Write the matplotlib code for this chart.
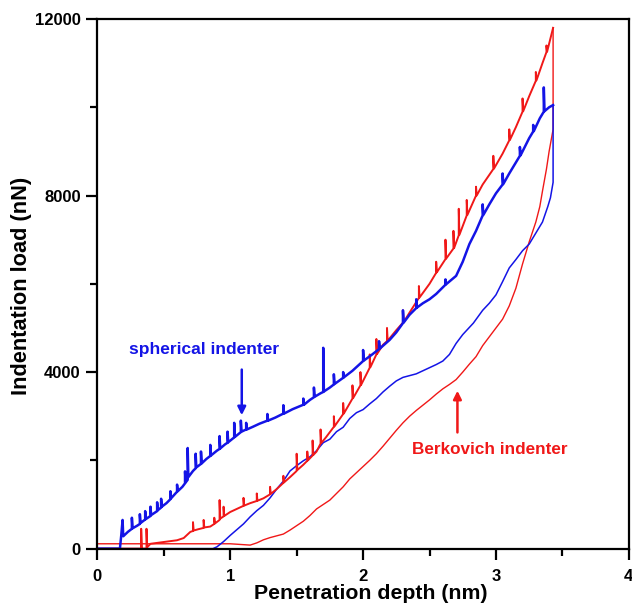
import matplotlib
matplotlib.use("Agg")
import matplotlib.pyplot as plt
from matplotlib.ticker import MultipleLocator

plt.rcParams['font.family'] = ['Liberation Sans', 'DejaVu Sans']
plt.rcParams['font.weight'] = 'bold'

sph_load_x = [0.00, 0.17, 0.18, 0.19, 0.195, 0.23, 0.26, 0.26, 0.265, 0.30, 0.32, 0.32, 0.325,
              0.36, 0.36, 0.365, 0.40, 0.40, 0.405, 0.45, 0.45, 0.455, 0.48, 0.48, 0.485, 0.52,
              0.55, 0.55, 0.555, 0.60, 0.60, 0.605, 0.64, 0.66, 0.66, 0.665, 0.68, 0.68, 0.685,
              0.72, 0.74, 0.74, 0.745, 0.78, 0.78, 0.785, 0.82, 0.85, 0.85, 0.855, 0.90, 0.92,
              0.92, 0.925, 0.96, 0.98, 0.98, 0.985, 1.03, 1.03, 1.035, 1.08, 1.08, 1.085, 1.12,
              1.12, 1.125, 1.17, 1.22, 1.28, 1.28, 1.285, 1.34, 1.40, 1.40, 1.405, 1.47, 1.55,
              1.55, 1.555, 1.60, 1.63, 1.63, 1.635, 1.68, 1.70, 1.70, 1.705, 1.75, 1.78, 1.78,
              1.785, 1.85, 1.85, 1.855, 1.92, 2.00, 2.00, 2.005, 2.06, 2.12, 2.12, 2.125, 2.20,
              2.25, 2.30, 2.30, 2.305, 2.35, 2.40, 2.40, 2.405, 2.45, 2.50, 2.55, 2.62, 2.62,
              2.625, 2.70, 2.75, 2.80, 2.85, 2.90, 2.90, 2.905, 2.95, 3.00, 3.05, 3.05, 3.055,
              3.10, 3.15, 3.18, 3.18, 3.185, 3.25, 3.28, 3.28, 3.285, 3.33, 3.36, 3.36, 3.365,
              3.40, 3.43]
sph_load_y = [0, 0, 300, 650, 280, 380, 450, 700, 460, 520, 560, 780, 580,
              660, 850, 670, 740, 950, 760, 850, 1050, 870, 930, 1130, 950, 1030,
              1120, 1300, 1140, 1290, 1450, 1300, 1400, 1480, 1750, 1500, 1560, 2280, 1620,
              1760, 1820, 2150, 1840, 1920, 2200, 1930, 2030, 2100, 2350, 2110, 2220, 2260,
              2550, 2270, 2360, 2400, 2650, 2410, 2520, 2850, 2530, 2640, 2900, 2650, 2700,
              2850, 2700, 2760, 2830, 2900, 3050, 2900, 2970, 3060, 3250, 3060, 3160, 3260,
              3400, 3260, 3370, 3430, 3650, 3440, 3520, 3550, 4550, 3560, 3650, 3720, 3950,
              3730, 3870, 4000, 3880, 4030, 4250, 4500, 4260, 4380, 4520, 4700, 4530, 4730,
              4900, 5110, 5400, 5120, 5300, 5450, 5650, 5460, 5560, 5650, 5770, 5980, 6100,
              5990, 6180, 6500, 6900, 7200, 7550, 7800, 7560, 7800, 8050, 8250, 8500, 8260,
              8500, 8750, 8900, 9100, 8910, 9300, 9450, 9600, 9460, 9750, 9900, 10450, 9910,
              10000, 10050]

# spherical indenter, unloading branch
sph_unl_x = [3.43, 3.43, 3.41, 3.39, 3.35, 3.30, 3.25, 3.20, 3.15, 3.10, 3.05, 3.00, 2.95,
             2.90, 2.83, 2.75, 2.70, 2.65, 2.60, 2.55, 2.50, 2.45, 2.40, 2.35, 2.30, 2.25,
             2.20, 2.15, 2.10, 2.05, 2.00, 1.95, 1.90, 1.85, 1.80, 1.75, 1.70, 1.65, 1.60,
             1.55, 1.50, 1.45, 1.40, 1.35, 1.30, 1.25, 1.20, 1.15, 1.10, 1.05, 1.00, 0.95,
             0.90, 0.87, 0.00]
sph_unl_y = [10050, 8300, 7950, 7750, 7400, 7150, 6900, 6750, 6550, 6360, 6050, 5750, 5560,
             5400, 5110, 4850, 4650, 4400, 4250, 4170, 4100, 4030, 3960, 3920, 3880, 3800,
             3680, 3550, 3400, 3280, 3150, 3080, 2950, 2750, 2650, 2480, 2400, 2220, 2080,
             1990, 1880, 1760, 1530, 1350, 1150, 980, 860, 720, 560, 430, 300, 160,
             40, 0, 0]

# Berkovich indenter, loading branch
brk_load_x = [0.00, 0.33, 0.33, 0.335, 0.37, 0.37, 0.375, 0.40, 0.45, 0.50, 0.55, 0.60, 0.65,
              0.70, 0.72, 0.72, 0.725, 0.76, 0.80, 0.80, 0.805, 0.85, 0.88, 0.88, 0.885, 0.92,
              0.92, 0.925, 0.95, 0.95, 0.955, 1.00, 1.05, 1.10, 1.10, 1.105, 1.15, 1.20, 1.20,
              1.205, 1.25, 1.30, 1.30, 1.305, 1.35, 1.40, 1.40, 1.405, 1.45, 1.50, 1.50, 1.505,
              1.55, 1.58, 1.58, 1.585, 1.62, 1.62, 1.625, 1.65, 1.68, 1.68, 1.685, 1.72, 1.78,
              1.78, 1.785, 1.85, 1.85, 1.855, 1.92, 1.92, 1.925, 1.98, 1.98, 1.985, 2.05, 2.05,
              2.055, 2.10, 2.10, 2.105, 2.15, 2.18, 2.18, 2.185, 2.25, 2.30, 2.30, 2.305, 2.35,
              2.42, 2.42, 2.425, 2.50, 2.55, 2.55, 2.555, 2.62, 2.62, 2.625, 2.68, 2.68, 2.685,
              2.72, 2.72, 2.725, 2.78, 2.78, 2.785, 2.85, 2.85, 2.855, 2.90, 2.98, 2.98, 2.985,
              3.05, 3.10, 3.10, 3.105, 3.15, 3.20, 3.20, 3.205, 3.25, 3.30, 3.30, 3.305, 3.35,
              3.38, 3.38, 3.385, 3.43]
brk_load_y = [0, 0, 450, 0, 0, 450, 30, 110, 130, 150, 170, 190, 240,
              380, 400, 600, 410, 440, 470, 650, 480, 500, 560, 700, 570, 650,
              1100, 680, 730, 950, 740, 830, 900, 970, 1150, 975, 1030, 1080, 1250,
              1085, 1140, 1230, 1400, 1240, 1350, 1490, 1650, 1500, 1620, 1760, 2150, 1780,
              1900, 1990, 2200, 2000, 2110, 2450, 2120, 2200, 2380, 2700, 2390, 2520, 2760,
              3000, 2770, 3050, 3300, 3060, 3400, 3700, 3410, 3700, 4000, 3710, 4100, 4400,
              4110, 4400, 4750, 4410, 4620, 4700, 5000, 4710, 4950, 5120, 5400, 5130, 5350,
              5680, 5950, 5690, 6000, 6250, 6500, 6260, 6560, 7000, 6570, 6800, 7200, 6810,
              7100, 7700, 7110, 7550, 7900, 7560, 8000, 8200, 8000, 8250, 8600, 8900, 8610,
              8950, 9250, 9500, 9260, 9550, 9900, 10200, 9910, 10250, 10600, 10800, 10610, 11000,
              11250, 11400, 11260, 11800]

# Berkovich indenter, unloading branch
brk_unl_x = [3.43, 3.43, 3.40, 3.38, 3.35, 3.33, 3.30, 3.25, 3.20, 3.15, 3.10, 3.05, 3.00,
             2.95, 2.90, 2.85, 2.80, 2.75, 2.70, 2.65, 2.60, 2.55, 2.50, 2.45, 2.40, 2.35,
             2.30, 2.25, 2.20, 2.15, 2.10, 2.05, 2.00, 1.95, 1.90, 1.85, 1.80, 1.75, 1.70,
             1.65, 1.60, 1.55, 1.50, 1.45, 1.40, 1.35, 1.30, 1.25, 1.20, 1.15, 1.10, 1.00, 0.00]
brk_unl_y = [11800, 9500, 9000, 8600, 8100, 7750, 7400, 6950, 6450, 5900, 5500, 5200, 5000,
             4800, 4600, 4350, 4180, 4000, 3830, 3720, 3620, 3500, 3370, 3250, 3130, 3000,
             2850, 2680, 2500, 2320, 2150, 2000, 1860, 1720, 1580, 1400, 1250, 1100, 1000,
             900, 750, 620, 520, 420, 330, 290, 250, 200, 130, 80, 90, 110, 110]

blue = '#1414e6'
red = '#f01818'

fig = plt.figure(figsize=(6.32, 6.13), dpi=100)
ax = fig.add_axes([0.154, 0.105, 0.841, 0.864])

ax.plot(brk_unl_x, brk_unl_y, color=red, lw=1.0)
ax.plot(sph_unl_x, sph_unl_y, color=blue, lw=1.1)
ax.plot(brk_load_x, brk_load_y, color=red, lw=1.4)
ax.plot(sph_load_x, sph_load_y, color=blue, lw=1.8)

ax.set_xlim(0, 4)
ax.set_ylim(0, 12000)
ax.xaxis.set_major_locator(MultipleLocator(1))
ax.xaxis.set_minor_locator(MultipleLocator(0.5))
ax.yaxis.set_major_locator(MultipleLocator(4000))
ax.yaxis.set_minor_locator(MultipleLocator(2000))
ax.tick_params(which='major', direction='out', length=8, width=1.6, labelsize=12, pad=4)
ax.tick_params(axis='x', which='major', pad=7)
ax.tick_params(which='minor', direction='out', length=5, width=1.6)
for lab in ax.get_xticklabels() + ax.get_yticklabels():
    lab.set_fontweight('bold')
for s in ax.spines.values():
    s.set_linewidth(1.6)

ax.set_xlabel('Penetration depth (nm)', fontsize=15.3, fontweight='bold', va='center')
ax.set_ylabel('Indentation load (nN)', fontsize=15.7, fontweight='bold', va='center')
ax.xaxis.set_label_coords(0.515, -0.085)
ax.yaxis.set_label_coords(-0.142, 0.496)

ax.text(0.80, 4520, 'spherical indenter', color=blue, fontsize=12.5, fontweight='bold',
        ha='center', va='center')
ax.annotate('', xy=(1.087, 2960), xytext=(1.087, 4120),
            arrowprops=dict(arrowstyle='-|>', color=blue, lw=1.8, mutation_scale=12))
ax.text(2.95, 2240, 'Berkovich indenter', color=red, fontsize=12.3, fontweight='bold',
        ha='center', va='center')
ax.annotate('', xy=(2.71, 3640), xytext=(2.71, 2570),
            arrowprops=dict(arrowstyle='-|>', color=red, lw=1.8, mutation_scale=12))

fig.savefig('out.png', dpi=100)
